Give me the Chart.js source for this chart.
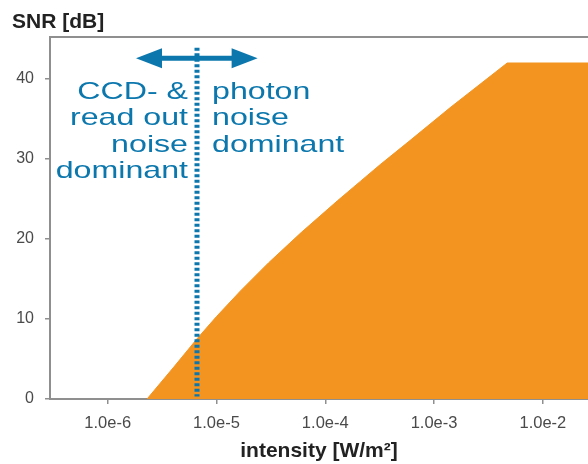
<!DOCTYPE html>
<html>
<head>
<meta charset="utf-8">
<title>SNR vs intensity</title>
<script src="https://cdn.jsdelivr.net/npm/chart.js@4.4.1/dist/chart.umd.min.js"></script>
<style>
  html, body { margin: 0; padding: 0; background: #fff; overflow: hidden; }
  #wrap { width: 588px; height: 464px; }
</style>
</head>
<body>
<div id="wrap"><canvas id="snrChart" width="588" height="464"></canvas></div>
<script>
// intensity in W/m², SNR in dB
const intensity = [2.3e-6, 4e-6, 6.6e-6, 1e-5, 1.66e-5, 3e-5, 6e-5, 1.3e-4, 2.1e-4, 3.2e-4, 6e-4, 1.4e-3, 4.7e-3, 2.6e-2];
const snr       = [0, 3.9, 7.5, 10.3, 13.5, 17.0, 20.8, 24.8, 27.2, 29.3, 32.3, 36.4, 42, 42];

const xTickValues = [1e-6, 1e-5, 1e-4, 1e-3, 1e-2];
const xTickLabels = ['1.0e-6', '1.0e-5', '1.0e-4', '1.0e-3', '1.0e-2'];
const yTickValues = [0, 10, 20, 30, 40];

// annotation: where photon noise takes over from read-out noise
const boundary = 6.6e-6;
const boundarySpan = [0.3, 43.9];
const arrowSpan = [1.82e-6, 2.39e-5];
const arrowLevel = 42.6;
const leftText = ['CCD- &', 'read out', 'noise', 'dominant'];
const rightText = ['photon', 'noise', 'dominant'];

const orange = '#f39420';
const blue = '#0b77ad';
const axisGrey = '#8f8f8f';
const fontFamily = "'Liberation Sans', Arial, Helvetica, sans-serif";

Chart.defaults.font.family = fontFamily;

const annotations = {
    id: 'annotations',
    afterDraw(chart) {
        const { ctx, chartArea, scales: { x, y } } = chart;
        ctx.save();

        // frame line along the top
        ctx.strokeStyle = axisGrey;
        ctx.lineWidth = 2;
        ctx.beginPath();
        ctx.moveTo(chartArea.left - 1, chartArea.top);
        ctx.lineTo(chartArea.right, chartArea.top);
        ctx.stroke();

        // y axis title, horizontal at top left
        ctx.fillStyle = '#222';
        ctx.font = 'bold 21px ' + fontFamily;
        ctx.textAlign = 'left';
        ctx.textBaseline = 'middle';
        ctx.fillText('SNR [dB]', 12, 22);

        // dotted boundary
        const bx = Math.round(x.getPixelForValue(boundary));
        ctx.strokeStyle = blue;
        ctx.lineWidth = 5;
        ctx.setLineDash([3, 2.5]);
        ctx.beginPath();
        ctx.moveTo(bx, y.getPixelForValue(boundarySpan[1]));
        ctx.lineTo(bx, y.getPixelForValue(boundarySpan[0]));
        ctx.stroke();
        ctx.setLineDash([]);

        // double arrow
        const ay = y.getPixelForValue(arrowLevel);
        const x0 = x.getPixelForValue(arrowSpan[0]);
        const x1 = x.getPixelForValue(arrowSpan[1]);
        const headL = 26, headH = 10;
        ctx.beginPath();
        ctx.moveTo(x0 + headL - 2, ay);
        ctx.lineTo(x1 - headL + 2, ay);
        ctx.stroke();
        ctx.fillStyle = blue;
        ctx.beginPath();
        ctx.moveTo(x0, ay);
        ctx.lineTo(x0 + headL, ay - headH);
        ctx.lineTo(x0 + headL, ay + headH);
        ctx.closePath();
        ctx.fill();
        ctx.beginPath();
        ctx.moveTo(x1, ay);
        ctx.lineTo(x1 - headL, ay - headH);
        ctx.lineTo(x1 - headL, ay + headH);
        ctx.closePath();
        ctx.fill();

        // labels either side of the boundary (wide lettering)
        ctx.font = '24px ' + fontFamily;
        ctx.textBaseline = 'alphabetic';
        leftText.forEach((t, i) => {
            ctx.save();
            ctx.translate(bx - 9, chartArea.top + 62 + i * 26.3);
            ctx.scale(1.34, 1);
            ctx.textAlign = 'right';
            ctx.fillText(t, 0, 0);
            ctx.restore();
        });
        rightText.forEach((t, i) => {
            ctx.save();
            ctx.translate(bx + 15, chartArea.top + 62 + i * 26.3);
            ctx.scale(1.34, 1);
            ctx.textAlign = 'left';
            ctx.fillText(t, 0, 0);
            ctx.restore();
        });

        ctx.restore();
    }
};

const ctx = document.getElementById('snrChart');

new Chart(ctx, {
    type: 'line',
    data: {
        datasets: [{
            label: 'SNR',
            data: intensity.map((v, i) => ({ x: v, y: snr[i] })),
            fill: 'origin',
            backgroundColor: orange,
            borderColor: orange,
            borderWidth: 1,
            pointRadius: 0,
            tension: 0
        }]
    },
    options: {
        responsive: false,
        animation: false,
        layout: { padding: { top: 37, left: 0, right: 0, bottom: 0 } },
        plugins: {
            legend: { display: false },
            tooltip: { enabled: false }
        },
        scales: {
            x: {
                type: 'logarithmic',
                min: 2.95e-7,
                max: 2.6e-2,
                afterFit: (s) => { s.height = 65; },
                afterBuildTicks: (s) => { s.ticks = xTickValues.map(v => ({ value: v })); },
                grid: { drawOnChartArea: false, tickLength: 5, color: axisGrey, lineWidth: 1.5 },
                border: { color: axisGrey, width: 2 },
                ticks: {
                    callback: (value, index) => xTickLabels[index],
                    padding: 10,
                    maxRotation: 0,
                    autoSkip: false,
                    color: '#4a4a4a',
                    font: { size: 16.5 }
                },
                title: {
                    display: true,
                    text: 'intensity [W/m²]',
                    color: '#222',
                    padding: 0,
                    font: { size: 21, weight: 'bold' }
                }
            },
            y: {
                min: 0,
                max: 45.25,
                afterFit: (s) => { s.width = 50; },
                afterBuildTicks: (s) => { s.ticks = yTickValues.map(v => ({ value: v })); },
                grid: { drawOnChartArea: false, tickLength: 5, color: axisGrey, lineWidth: 1.5 },
                border: { color: axisGrey, width: 2 },
                ticks: { padding: 11, color: '#4a4a4a', font: { size: 16 } }
            }
        }
    },
    plugins: [annotations]
});
</script>
</body>
</html>
